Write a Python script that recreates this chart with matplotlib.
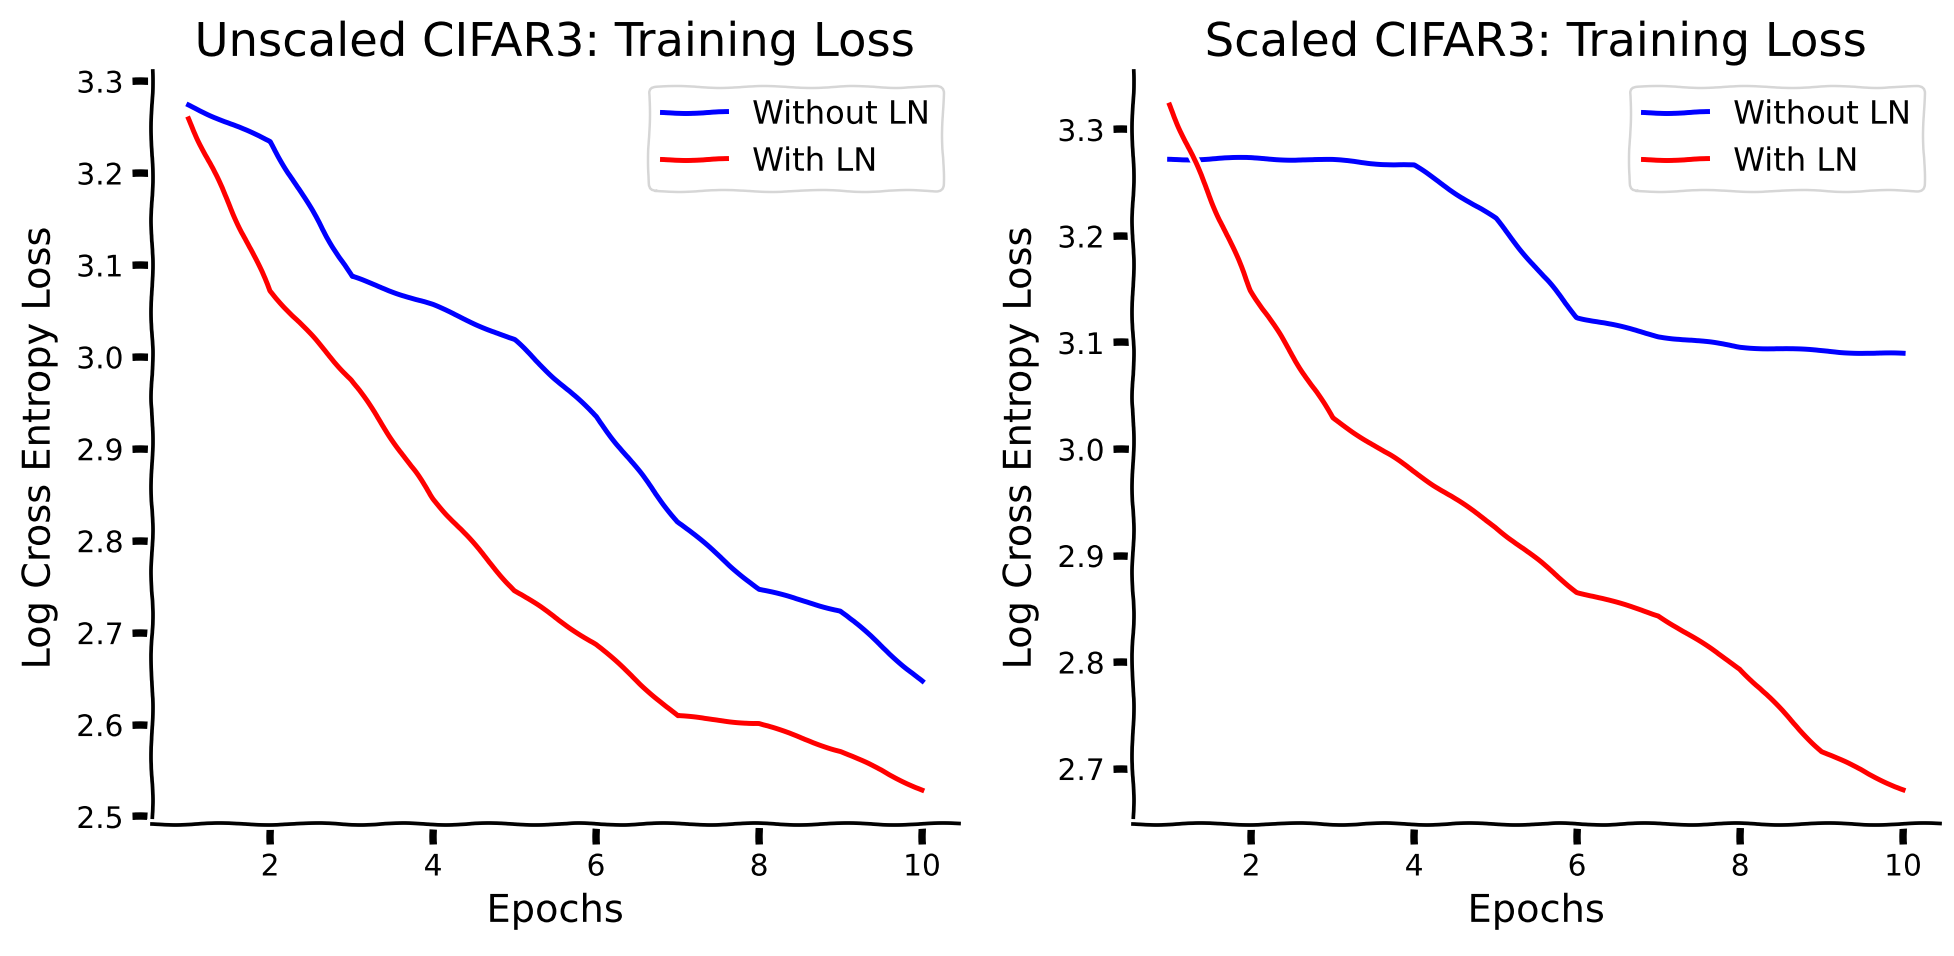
import matplotlib
matplotlib.use("Agg")
import matplotlib.pyplot as plt

# epochs and losses
epochs = [1, 2, 3, 4, 5, 6, 7, 8, 9, 10]

unscaled_no_ln = [3.274, 3.234, 3.087, 3.056, 3.018, 2.935, 2.821, 2.747, 2.724, 2.647]
unscaled_ln = [3.259, 3.072, 2.975, 2.846, 2.746, 2.687, 2.609, 2.601, 2.571, 2.529]

scaled_no_ln = [3.272, 3.273, 3.271, 3.266, 3.216, 3.124, 3.106, 3.096, 3.092, 3.089]
scaled_ln = [3.323, 3.149, 3.029, 2.979, 2.927, 2.866, 2.844, 2.794, 2.716, 2.680]

titles = ["Unscaled CIFAR3: Training Loss", "Scaled CIFAR3: Training Loss"]


def main():
    with plt.xkcd():
        plt.rcParams["font.family"] = "DejaVu Sans"
        fig, axes = plt.subplots(1, 2, figsize=(1955 / 178, 956 / 178), dpi=178)
        fig.subplots_adjust(left=0.0777, right=0.9922, bottom=0.138, top=0.926, wspace=0.216)

        series = [(unscaled_no_ln, unscaled_ln), (scaled_no_ln, scaled_ln)]
        for ax, (no_ln, ln), title in zip(axes, series, titles):
            ax.plot(epochs, no_ln, color="blue", label="Without LN")
            ax.plot(epochs, ln, color="red", label="With LN")
            ax.set_title(title, fontsize=18.8)
            ax.set_xlabel("Epochs", fontsize=15.5, labelpad=5)
            ax.set_ylabel("Log Cross Entropy Loss", fontsize=15.5, labelpad=7.5)
            ax.tick_params(labelsize=12)
            ax.spines["top"].set_visible(False)
            ax.spines["right"].set_visible(False)
            ax.legend(loc="upper right", fontsize=13)

        fig.savefig("out.png", dpi=178)


if __name__ == "__main__":
    main()
